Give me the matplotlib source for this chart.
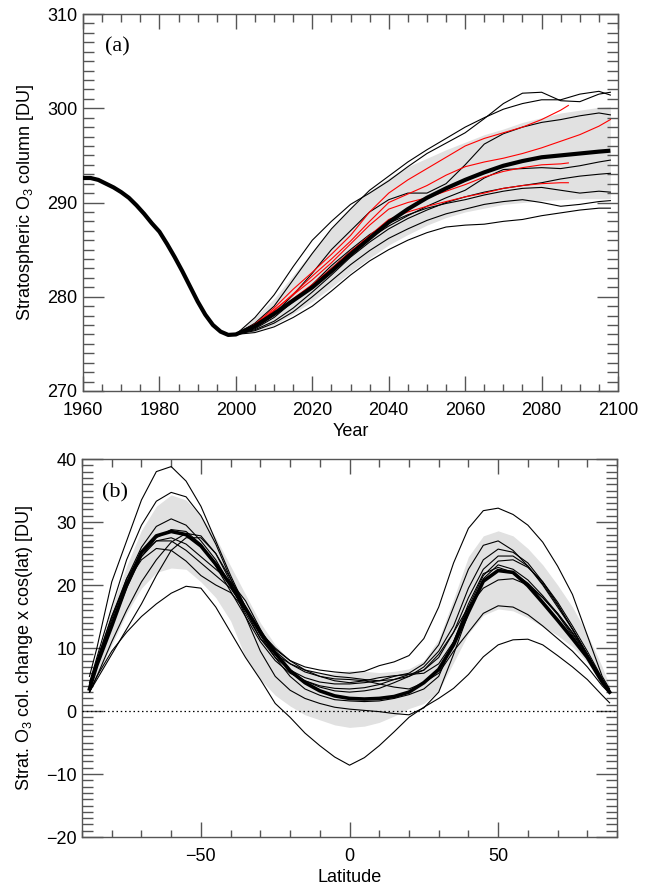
import numpy as np
import matplotlib
matplotlib.use('Agg')
import matplotlib.pyplot as plt
from matplotlib.ticker import MultipleLocator

plt.rcParams['font.family'] = ['Liberation Sans', 'DejaVu Sans']
plt.rcParams['mathtext.fontset'] = 'custom'
plt.rcParams['mathtext.rm'] = 'Liberation Sans'
plt.rcParams['mathtext.it'] = 'Liberation Sans:italic'

# ---------------- (a) 时间序列数据 ----------------
years_mean = [1960, 1962, 1964, 1966, 1968, 1970, 1972, 1974, 1976, 1978, 1980,
              1982, 1984, 1986, 1988, 1990, 1992, 1994, 1996, 1998, 2000,
              2005, 2010, 2015, 2020, 2025, 2030, 2035, 2040, 2045, 2050,
              2055, 2060, 2065, 2070, 2075, 2080, 2085, 2090, 2095, 2098]
o3_mean = [292.6, 292.6, 292.4, 292.0, 291.6, 291.1, 290.5, 289.7, 288.8, 287.8, 286.9,
           285.6, 284.2, 282.7, 281.1, 279.5, 278.1, 277.0, 276.3, 275.95, 276.0,
           276.9, 278.2, 279.6, 281.0, 282.7, 284.5, 286.2, 287.9, 289.3, 290.5,
           291.5, 292.4, 293.2, 293.9, 294.4, 294.8, 295.0, 295.2, 295.4, 295.5]

years_full = [2000, 2005, 2010, 2015, 2020, 2025, 2030, 2035, 2040, 2045, 2050,
              2055, 2060, 2065, 2070, 2075, 2080, 2085, 2090, 2095, 2098]
years_short = [2000, 2005, 2010, 2015, 2020, 2025, 2030, 2035, 2040, 2045, 2050,
               2055, 2060, 2065, 2070, 2075, 2080, 2085, 2087]

band_hi = [276.0, 277.8, 279.8, 282.3, 284.8, 287.2, 289.4, 291.2, 292.6, 293.8, 294.7,
           295.6, 296.4, 297.2, 297.8, 298.5, 299.0, 299.5, 299.8, 300.1, 300.2]
band_lo = [276.0, 276.3, 277.0, 278.2, 279.5, 281.0, 282.6, 284.1, 285.5, 286.6, 287.6,
           288.4, 289.0, 289.4, 289.8, 290.0, 290.2, 290.3, 290.4, 290.4, 290.4]

black_models = [
    [276.0, 277.8, 280.2, 283.2, 286.0, 288.0, 289.8, 291.0, 292.3, 293.8, 295.2,
     296.3, 297.4, 298.9, 300.5, 301.6, 301.7, 300.8, 300.7, 301.5, 301.7],
    [276.0, 277.2, 279.0, 281.8, 284.6, 287.2, 289.3, 291.3, 292.8, 294.3, 295.6,
     296.8, 298.0, 299.0, 299.9, 300.5, 300.9, 300.9, 301.5, 301.8, 301.4],
    [276.0, 276.8, 278.2, 280.2, 282.5, 285.0, 287.0, 289.0, 290.3, 291.0, 291.0,
     292.0, 294.0, 296.2, 297.3, 298.0, 298.5, 298.8, 299.2, 299.5, 299.3],
    [276.0, 276.6, 277.8, 279.5, 281.2, 283.0, 284.8, 286.2, 287.5, 288.6, 289.6,
     290.5, 291.3, 292.6, 293.5, 293.6, 293.7, 293.6, 293.9, 294.3, 294.5],
    [276.0, 276.5, 277.4, 278.8, 280.5, 282.3, 284.2, 285.8, 287.2, 288.3, 289.2,
     290.0, 290.6, 291.1, 291.5, 291.8, 292.1, 292.5, 292.8, 293.0, 293.1],
    [276.0, 276.7, 278.0, 279.5, 281.3, 283.3, 285.0, 286.6, 287.8, 288.7, 289.4,
     289.9, 290.3, 290.8, 291.2, 291.5, 291.6, 291.3, 291.0, 291.2, 291.1],
    [276.0, 276.4, 277.2, 278.4, 280.0, 281.7, 283.4, 284.9, 286.2, 287.2, 288.1,
     288.8, 289.3, 289.8, 290.1, 290.3, 290.0, 289.6, 289.8, 290.1, 290.2],
    [276.0, 276.2, 276.8, 277.8, 279.0, 280.6, 282.3, 283.8, 285.0, 286.0, 286.8,
     287.4, 287.6, 287.7, 288.0, 288.2, 288.6, 288.9, 289.2, 289.4, 289.4],
]

red_long = [276.0, 277.0, 278.5, 280.3, 282.2, 284.0, 285.9, 288.0, 290.0, 290.9, 291.8,
            292.9, 293.8, 294.3, 294.7, 295.2, 295.8, 296.5, 297.2, 298.1, 298.8]
red_short = [
    [276.0, 277.1, 278.8, 280.8, 282.6, 284.5, 286.5, 289.0, 291.0, 292.4, 293.6,
     294.8, 296.0, 296.8, 297.4, 298.0, 298.8, 299.8, 300.3],
    [276.0, 277.0, 278.6, 280.2, 281.8, 283.6, 285.6, 287.6, 289.3, 290.0, 290.5,
     291.2, 291.9, 292.7, 293.3, 293.7, 294.0, 294.1, 294.2],
    [276.0, 276.9, 278.3, 279.8, 281.3, 283.0, 284.8, 286.5, 288.2, 289.0, 289.6,
     290.1, 290.6, 291.0, 291.5, 291.8, 292.0, 292.1, 292.1],
]

# ---------------- (b) 纬度分布数据 ----------------
lats = [-87.5, -85, -80, -75, -70, -65, -60, -55, -50, -45, -40, -35, -30, -25, -20,
        -15, -10, -5, 0, 5, 10, 15, 20, 25, 30, 35, 40, 45, 50, 55, 60, 65, 70, 75,
        80, 85, 87.5]
lat_mean = [3.5, 7.3, 13.5, 20.0, 25.2, 27.8, 28.5, 28.0, 26.2, 23.3, 20.0, 16.3, 12.5, 9.2, 6.4,
            4.5, 3.2, 2.4, 2.0, 1.9, 2.0, 2.3, 3.0, 4.5, 6.6, 10.5, 15.7, 20.6, 22.3, 22.0,
            19.9, 17.2, 14.4, 11.5, 8.5, 4.6, 3.0]
lat_hi = [4.2, 8.5, 16.5, 23.0, 28.7, 32.5, 34.3, 33.5, 31.0, 27.5, 23.0, 18.5, 14.0, 10.5, 8.0,
          6.8, 6.0, 6.0, 6.4, 6.3, 6.1, 6.3, 6.7, 8.0, 11.4, 17.8, 24.5, 27.8, 28.6, 27.8,
          25.8, 23.2, 20.0, 16.5, 12.2, 7.0, 4.0]
lat_lo = [3.0, 5.5, 10.5, 15.5, 19.5, 22.0, 22.7, 22.5, 20.5, 18.0, 14.3, 8.5, 5.0, 2.5, 0.8,
          -0.6, -1.4, -2.2, -2.6, -2.4, -1.8, -0.8, 0.4, 1.2, 3.2, 7.7, 12.3, 15.2, 16.2, 15.9,
          14.8, 13.4, 12.0, 10.2, 7.7, 4.2, 2.6]

lat_models = [
    [5.5, 10.0, 20.5, 27.0, 33.5, 38.0, 38.8, 36.5, 32.5, 27.0, 21.5, 16.5, 12.5, 9.8, 8.0,
     7.0, 6.5, 6.2, 6.0, 6.3, 7.2, 7.8, 8.8, 11.5, 16.5, 23.5, 29.0, 31.8, 32.2, 31.2,
     29.5, 26.8, 23.0, 18.5, 12.0, 5.5, 3.5],
    [4.5, 8.5, 16.5, 24.0, 29.5, 33.3, 34.7, 34.0, 31.0, 26.5, 21.0, 16.0, 11.5, 8.5, 6.5,
     5.3, 4.6, 4.3, 4.3, 4.5, 4.8, 5.5, 6.0, 7.5, 10.5, 16.5, 22.5, 26.3, 27.0, 25.5,
     23.0, 20.0, 16.5, 13.0, 9.0, 4.8, 3.0],
    [4.0, 7.5, 14.5, 21.0, 26.0, 29.3, 30.5, 29.5, 27.0, 24.0, 20.0, 15.5, 11.5, 9.0, 7.5,
     6.5, 6.0, 5.5, 5.3, 5.0, 4.8, 5.0, 5.5, 7.0, 9.5, 13.5, 19.5, 24.0, 25.7, 25.2,
     23.5, 20.5, 17.0, 13.0, 9.0, 5.0, 3.2],
    [3.5, 7.0, 13.5, 19.5, 24.5, 27.5, 28.8, 28.5, 26.5, 23.0, 19.0, 15.0, 11.0, 8.0, 6.0,
     4.8, 4.0, 3.6, 3.5, 3.7, 4.2, 5.0, 5.8, 6.5, 9.0, 12.5, 18.0, 22.5, 24.6, 24.6,
     23.0, 20.2, 16.8, 13.0, 9.0, 5.0, 3.0],
    [3.0, 5.5, 11.0, 16.0, 20.5, 24.0, 26.8, 28.2, 27.8, 25.0, 21.0, 16.5, 12.0, 8.5, 5.5,
     3.5, 2.5, 1.8, 1.6, 1.5, 1.6, 2.0, 2.6, 3.5, 5.5, 11.0, 17.0, 21.8, 22.8, 22.0,
     20.3, 18.0, 15.3, 12.0, 8.5, 4.8, 3.0],
    [3.8, 7.5, 14.0, 20.0, 24.5, 27.0, 27.5, 26.5, 24.5, 22.5, 20.5, 17.5, 13.0, 9.0, 6.3,
     4.8, 3.8, 3.2, 3.0, 3.2, 3.6, 4.5, 5.5, 6.5, 8.5, 12.5, 16.5, 19.5, 20.8, 21.0,
     20.0, 18.0, 15.5, 12.5, 9.0, 5.0, 3.0],
    [4.0, 8.0, 15.0, 20.5, 24.0, 25.8, 25.5, 23.8, 21.5, 20.0, 18.8, 16.0, 12.5, 9.5, 7.5,
     6.2, 5.5, 5.1, 5.0, 4.8, 4.3, 3.8, 3.5, 4.5, 6.0, 9.5, 12.5, 15.5, 16.7, 16.5,
     15.3, 13.5, 11.5, 9.5, 7.0, 4.0, 2.8],
    [3.0, 5.0, 9.0, 13.0, 17.0, 21.5, 25.5, 27.5, 27.5, 25.0, 20.5, 15.0, 9.5, 5.5, 3.3,
     2.0, 1.2, 0.6, 0.3, 0.1, -0.1, -0.4, -0.6, 0.5, 3.0, 9.0, 15.5, 21.0, 23.2, 22.5,
     20.8, 18.3, 15.5, 12.3, 8.8, 5.0, 3.2],
    [4.2, 8.0, 15.0, 21.0, 25.0, 27.0, 27.0, 25.5, 23.5, 21.5, 19.5, 16.0, 12.5, 10.0, 8.0,
     6.5, 5.5, 4.8, 4.5, 4.8, 5.3, 5.6, 5.8, 6.0, 7.5, 11.0, 16.5, 21.5, 23.8, 24.0,
     22.8, 20.5, 17.3, 13.5, 9.5, 5.2, 3.2],
    [3.0, 5.5, 9.5, 12.5, 15.0, 17.0, 18.7, 19.8, 19.5, 16.5, 12.5, 8.5, 5.0, 1.2, -1.0,
     -3.5, -5.5, -7.3, -8.6, -7.4, -5.5, -3.3, -1.0, 0.6, 2.0, 3.6, 5.8, 8.6, 10.5, 11.3,
     11.4, 10.5, 8.8, 7.0, 5.0, 2.5, 1.3],
]

frame_col = '#555555'
band_col = '#e1e1e1'
fs = 13

fig = plt.figure(figsize=(6.52, 8.88), dpi=100)
ax1 = fig.add_axes([0.1273, 0.5597, 0.8206, 0.4245])
ax2 = fig.add_axes([0.1258, 0.0574, 0.8206, 0.4257])


def style_axes(ax):
    for sp in ax.spines.values():
        sp.set_color(frame_col)
        sp.set_linewidth(1.0)
    ax.tick_params(which='both', direction='in', top=True, right=True,
                   color=frame_col, width=1.0, labelsize=fs, labelcolor='black')
    ax.tick_params(axis='x', which='major', length=10.8, pad=8)
    ax.tick_params(axis='x', which='minor', length=5.4)
    ax.tick_params(axis='y', which='major', length=15.4, pad=4)
    ax.tick_params(axis='y', which='minor', length=7.6)


# (a)
ax1.fill_between(years_full, band_lo, band_hi, color=band_col, lw=0, zorder=1)
for m in black_models:
    ax1.plot(years_full, m, color='black', lw=0.8, zorder=2)
ax1.plot(years_full, red_long, color='red', lw=0.8, zorder=3)
for m in red_short:
    ax1.plot(years_short, m, color='red', lw=0.8, zorder=3)
ax1.plot(years_mean, o3_mean, color='black', lw=3.0, zorder=4, solid_capstyle='butt')

ax1.set_xlim(1960, 2100)
ax1.set_ylim(270, 310)
ax1.xaxis.set_major_locator(MultipleLocator(20))
ax1.xaxis.set_minor_locator(MultipleLocator(5))
ax1.yaxis.set_major_locator(MultipleLocator(10))
ax1.yaxis.set_minor_locator(MultipleLocator(1))
style_axes(ax1)
ax1.set_xlabel('Year', fontsize=fs, labelpad=3)
ax1.set_ylabel('Stratospheric O$_3$ column [DU]', fontsize=fs, labelpad=8)
ax1.text(0.041, 0.912, '(a)', transform=ax1.transAxes, fontsize=16,
         family='Liberation Serif', va='center', ha='left')

# (b)
ax2.fill_between(lats, lat_lo, lat_hi, color=band_col, lw=0, zorder=1)
for m in lat_models:
    ax2.plot(lats, m, color='black', lw=0.8, zorder=2)
ax2.plot(lats, lat_mean, color='black', lw=2.6, zorder=4)
ax2.axhline(0, color='black', lw=0.9, ls=(0, (1.2, 2.2)), zorder=3)

ax2.set_xlim(-90, 90)
ax2.set_ylim(-20, 40)
ax2.xaxis.set_major_locator(MultipleLocator(50))
ax2.xaxis.set_minor_locator(MultipleLocator(10))
ax2.yaxis.set_major_locator(MultipleLocator(10))
ax2.yaxis.set_minor_locator(MultipleLocator(1))
style_axes(ax2)
ax2.set_xlabel('Latitude', fontsize=fs, labelpad=3)
ax2.set_ylabel('Strat. O$_3$ col. change x cos(lat) [DU]', fontsize=fs, labelpad=8)
ax2.text(0.037, 0.91, '(b)', transform=ax2.transAxes, fontsize=16,
         family='Liberation Serif', va='center', ha='left')

fig.savefig('out.png', dpi=100)
